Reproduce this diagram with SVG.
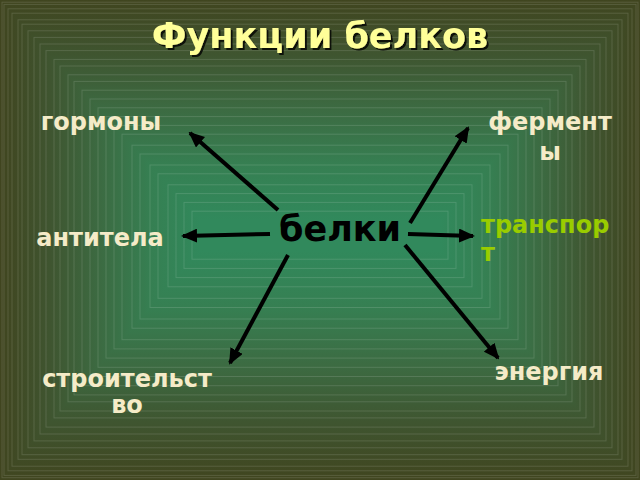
<svg xmlns="http://www.w3.org/2000/svg" width="640" height="480" viewBox="0 0 640 480">
<style>
.ln rect{fill:none;stroke:#ffffff;stroke-opacity:0.13;stroke-width:1}
.lbl{font-family:"DejaVu Sans","Liberation Sans",sans-serif;font-weight:bold;font-size:24px;fill:#f5ebc8}
.title{font-family:"DejaVu Sans","Liberation Sans",sans-serif;font-weight:bold;font-size:35px;fill:#ffff99}
.conn line{stroke:#000;stroke-width:4;marker-end:url(#ah)}
</style>
<defs>
<marker id="ah" markerUnits="userSpaceOnUse" markerWidth="16" markerHeight="14" refX="14" refY="7" orient="auto">
<path d="M0,0 L16,7 L0,14 Z" fill="#000"/>
</marker>
<linearGradient id="gt" gradientUnits="userSpaceOnUse" x1="0" y1="0" x2="0" y2="220">
<stop offset="0" stop-color="#40451f"/><stop offset="0.25" stop-color="#3f5530"/><stop offset="0.5" stop-color="#3c6b42"/><stop offset="0.75" stop-color="#367f52"/><stop offset="1" stop-color="#31895c"/>
</linearGradient>
<linearGradient id="gb" href="#gt" gradientUnits="userSpaceOnUse" x1="0" y1="480" x2="0" y2="250"/>
<linearGradient id="gl" href="#gt" gradientUnits="userSpaceOnUse" x1="0" y1="0" x2="200" y2="0"/>
<linearGradient id="gr" href="#gt" gradientUnits="userSpaceOnUse" x1="640" y1="0" x2="440" y2="0"/>
<filter id="sh" x="-10%" y="-20%" width="130%" height="150%">
<feDropShadow dx="2" dy="2" stdDeviation="0.6" flood-color="#000" flood-opacity="0.8"/>
</filter>
</defs>
<g id="background">
<rect x="0" y="0" width="321" height="480" fill="url(#gl)"/>
<rect x="320" y="0" width="320" height="480" fill="url(#gr)"/>
<polygon points="0,0 640,0 440,220 200,220" fill="url(#gt)"/>
<polygon points="0,480 640,480 440,250 200,250" fill="url(#gb)"/>
<g class="ln">
<rect x="2" y="2.2" width="636" height="475.5"/>
<rect x="4" y="4.4" width="632" height="471"/>
<rect x="8" y="8.8" width="624" height="462"/>
<rect x="12" y="13.2" width="616" height="453"/>
<rect x="18" y="19.8" width="604" height="439.5"/>
<rect x="22" y="24.2" width="596" height="430.5"/>
<rect x="28" y="30.8" width="584" height="417"/>
<rect x="34" y="37.4" width="572" height="403.5"/>
<rect x="40" y="44" width="560" height="390"/>
<rect x="46" y="50.6" width="548" height="376.5"/>
<rect x="54" y="59.4" width="532" height="358.5"/>
<rect x="60" y="66" width="520" height="345"/>
<rect x="68" y="74.8" width="504" height="327"/>
<rect x="74" y="81.4" width="492" height="313.5"/>
<rect x="82" y="90.2" width="476" height="295.5"/>
<rect x="90" y="99" width="460" height="277.5"/>
<rect x="98" y="107.8" width="444" height="259.5"/>
<rect x="106" y="116.6" width="428" height="241.5"/>
<rect x="114" y="125.4" width="412" height="223.5"/>
<rect x="122" y="134.2" width="396" height="205.5"/>
<rect x="132" y="145.2" width="376" height="183"/>
<rect x="140" y="154" width="360" height="165"/>
<rect x="150" y="165" width="340" height="142.5"/>
<rect x="158" y="173.8" width="324" height="124.5"/>
<rect x="168" y="184.8" width="304" height="102"/>
<rect x="176" y="193.6" width="288" height="84"/>
<rect x="184" y="202.4" width="272" height="66"/>
<rect x="192" y="211.2" width="256" height="48"/>
</g>
</g>
<g id="title">
<text class="title" x="320" y="48" text-anchor="middle" filter="url(#sh)">Функции белков</text>
</g>
<g class="conn">
<line x1="278" y1="210" x2="190" y2="133"/>
<line x1="410" y1="223" x2="468" y2="128"/>
<line x1="270" y1="234" x2="183" y2="236"/>
<line x1="408" y1="234" x2="473" y2="236"/>
<line x1="288" y1="255" x2="230" y2="363"/>
<line x1="405" y1="245" x2="498" y2="358"/>
</g>
<g id="center">
<text x="340" y="241" text-anchor="middle" style="font-family:'DejaVu Sans','Liberation Sans',sans-serif;font-weight:bold;font-size:35px;fill:#000">белки</text>
</g>
<g id="gormony"><text class="lbl" x="101" y="130" text-anchor="middle">гормоны</text></g>
<g id="fermenty"><text class="lbl" x="550" y="130" text-anchor="middle">фермент</text><text class="lbl" x="550" y="160" text-anchor="middle">ы</text></g>
<g id="antitela"><text class="lbl" x="100" y="246" text-anchor="middle">антитела</text></g>
<g id="transport"><text class="lbl" x="481" y="233" style="fill:#99cc00">транспор</text><text class="lbl" x="481" y="261" style="fill:#99cc00">т</text></g>
<g id="energiya"><text class="lbl" x="549" y="380" text-anchor="middle">энергия</text></g>
<g id="stroitelstvo"><text class="lbl" x="127" y="387" text-anchor="middle">строительст</text><text class="lbl" x="127" y="413" text-anchor="middle">во</text></g>
</svg>
